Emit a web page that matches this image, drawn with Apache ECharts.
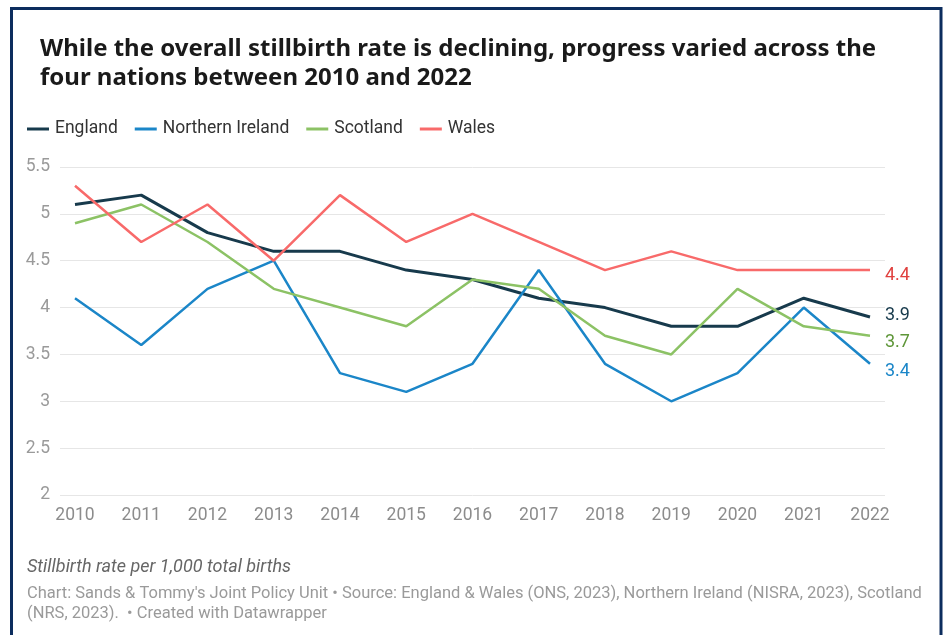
<!DOCTYPE html>
<html>
<head>
<meta charset="utf-8">
<script src="https://cdn.jsdelivr.net/npm/echarts@6/dist/echarts.min.js"></script>
<style>
  html, body { margin: 0; padding: 0; background: #fff; }
  #chart { width: 944px; height: 635px; }
</style>
</head>
<body>
<div id="chart"></div>
<script>
// Stillbirth rate per 1,000 total births, 2010–2022
const years = ['2010','2011','2012','2013','2014','2015','2016','2017','2018','2019','2020','2021','2022'];
const england         = [5.1, 5.2, 4.8, 4.6, 4.6, 4.4, 4.3, 4.1, 4.0, 3.8, 3.8, 4.1, 3.9];
const northernIreland = [4.1, 3.6, 4.2, 4.5, 3.3, 3.1, 3.4, 4.4, 3.4, 3.0, 3.3, 4.0, 3.4];
const scotland        = [4.9, 5.1, 4.7, 4.2, 4.0, 3.8, 4.3, 4.2, 3.7, 3.5, 4.2, 3.8, 3.7];
const wales           = [5.3, 4.7, 5.1, 4.5, 5.2, 4.7, 5.0, 4.7, 4.4, 4.6, 4.4, 4.4, 4.4];
const yTicks = [2, 2.5, 3, 3.5, 4, 4.5, 5, 5.5];

const FONT = 'Roboto, "Noto Sans", sans-serif';
const TITLE_FONT = '"Noto Sans", Roboto, sans-serif';

function nation(name, data, color, labelColor, width, dy) {
  return {
    name: name,
    type: 'line',
    xAxisIndex: 1,
    yAxisIndex: 1,
    data: data,
    symbol: 'none',
    lineStyle: { color: color, width: width },
    itemStyle: { color: color },
    z: 3,
    endLabel: {
      show: true,
      formatter: p => p.value.toFixed(1),
      color: labelColor,
      fontFamily: FONT,
      fontSize: 18,
      distance: 15,
      offset: [0, dy]
    },
    emphasis: { disabled: true }
  };
}

const chart = echarts.init(document.getElementById('chart'), null, { renderer: 'canvas' });
chart.setOption({
  animation: false,
  backgroundColor: '#ffffff',
  title: [
    {
      text: 'While the overall stillbirth rate is declining, progress varied across the\nfour nations between 2010 and 2022',
      left: 40, top: 35, padding: 0,
      textStyle: { fontFamily: TITLE_FONT, fontWeight: 'bold', fontSize: 24, lineHeight: 29, color: '#1a1a1a' }
    },
    {
      text: 'Stillbirth rate per 1,000 total births',
      left: 27, top: 558, padding: 0,
      textStyle: { fontFamily: FONT, fontStyle: 'italic', fontWeight: 'normal', fontSize: 18, color: '#666666' }
    },
    {
      text: "Chart: Sands & Tommy's Joint Policy Unit \u2022 Source: England & Wales (ONS, 2023), Northern Ireland (NISRA, 2023), Scotland\n(NRS, 2023).  \u2022 Created with Datawrapper",
      left: 27, top: 584, padding: 0,
      textStyle: { fontFamily: FONT, fontWeight: 'normal', fontSize: 16.5, lineHeight: 20, color: '#9a9a9a' }
    }
  ],
  legend: {
    left: 27, top: 120, padding: 0,
    icon: 'rect',
    itemWidth: 22, itemHeight: 3,
    itemGap: 17,
    textStyle: { fontFamily: FONT, fontSize: 17.5, color: '#333333', padding: [0, 0, 0, 1] },
    data: ['England', 'Northern Ireland', 'Scotland', 'Wales'],
    selectedMode: false
  },
  graphic: [
    {
      type: 'rect',
      shape: { x: 11.5, y: 8.5, width: 929.5, height: 700 },
      style: { fill: null, stroke: '#0c2d5e', lineWidth: 3 },
      silent: true
    }
  ],
  grid: [
    { left: 60, right: 59, top: 167, bottom: 140 },
    { left: 75, right: 74, top: 167, bottom: 140 }
  ],
  xAxis: [
    { type: 'category', gridIndex: 0, data: years, show: false, boundaryGap: false },
    {
      type: 'category', gridIndex: 1, data: years, boundaryGap: false,
      axisLine: { show: false }, axisTick: { show: false },
      axisLabel: { fontFamily: FONT, fontSize: 17.5, color: '#8c8c8c', margin: 12 },
      splitLine: { show: false }
    }
  ],
  yAxis: [
    {
      type: 'value', gridIndex: 0, min: yTicks[0], max: yTicks[yTicks.length - 1], interval: 0.5,
      axisLine: { show: false }, axisTick: { show: false },
      axisLabel: { fontFamily: FONT, fontSize: 17.5, color: '#9a9a9a', margin: 10 },
      splitLine: { lineStyle: { color: '#e6e6e6', width: 1 } }
    },
    {
      type: 'value', gridIndex: 1, min: yTicks[0], max: yTicks[yTicks.length - 1], interval: 0.5,
      show: false
    }
  ],
  series: [
    nation('England', england, '#173a4c', '#173a4c', 3, -1),
    nation('Northern Ireland', northernIreland, '#1b86c8', '#1b86c8', 2.5, 8),
    nation('Scotland', scotland, '#8cc265', '#5e9638', 2.5, 7),
    nation('Wales', wales, '#f86a6a', '#e0413f', 2.5, 5)
  ]
});
</script>
</body>
</html>
